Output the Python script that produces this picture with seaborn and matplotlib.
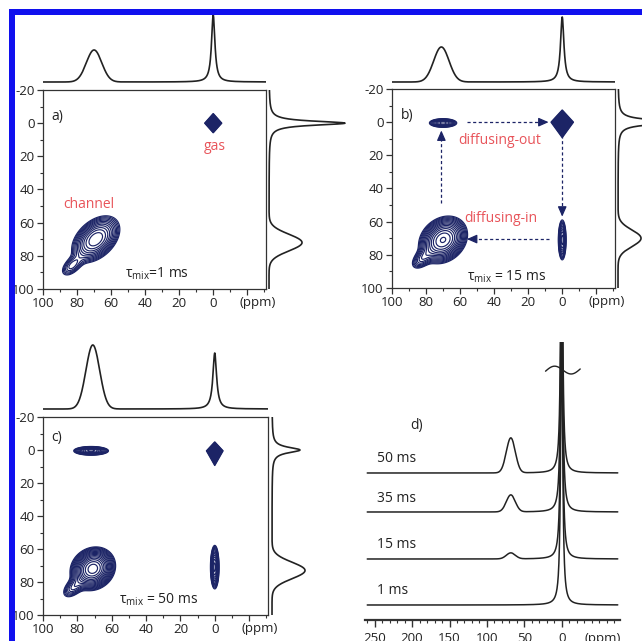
import numpy as np
import matplotlib
matplotlib.use("Agg")
import matplotlib.pyplot as plt
from matplotlib.patches import Rectangle
from matplotlib.ticker import MultipleLocator
import seaborn as sns

# ----------------------------------------------------------
# data
# ----------------------------------------------------------
panel_tags = ["a)", "b)", "c)"]
mix_labels = ["τ$_{\\mathrm{mix}}$=1 ms", "τ$_{\\mathrm{mix}}$ = 15 ms", "τ$_{\\mathrm{mix}}$ = 50 ms"]

# gas diagonal peak (ppm), diamond shaped
gas_x = [0.0, 0.0, 0.0]
gas_y = [0.0, 0.0, 0.5]
gas_wx = [1.3, 1.7, 1.25]
gas_wy_up = [1.5, 1.9, 1.4]
gas_wy_dn = [1.5, 2.4, 2.3]
gas_amp = [4.0, 4.0, 4.0]

# channel diagonal peak (main part + low field tail)
chan_x = [69.0, 70.0, 71.0]
chan_y = [70.0, 71.0, 72.0]
chan_su = [7.5, 6.5, 5.5]
chan_sv = [4.8, 5.2, 4.8]
chan_amp = [1.0, 1.6, 2.2]
tail_x = [83.0, 82.0, 82.0]
tail_y = [86.0, 82.0, 83.0]
tail_amp = [0.25, 0.3, 0.3]

# exchange cross peaks: channel -> gas (x=70, y=0) and gas -> channel (x=0, y=70)
out_x = [70.0, 70.0, 72.0]
out_y = [0.0, 0.5, 0.5]
out_sx = [4.3, 4.0, 4.6]
out_sy = [1.45, 1.3, 1.2]
out_amp = [0.0, 0.6, 0.9]
in_x = [0.0, 0.0, 0.0]
in_y = [71.0, 71.0, 71.0]
in_sx = [1.25, 1.15, 1.15]
in_sy = [6.5, 6.0, 6.0]
in_amp = [0.0, 0.6, 0.9]

# projections (arbitrary intensity)
top_chan_pos = [70.0, 71.0, 71.0]
top_chan_sig = [4.5, 4.5, 4.0]
top_chan_amp = [32, 35, 64]
top_gas_hw = [1.2, 1.2, 1.3]
top_gas_amp = [67, 65, 56]
right_chan_pos = [72.0, 70.0, 73.0]
right_chan_sig = [5.0, 5.0, 5.0]
right_chan_amp = [33, 23, 33]
right_gas_hw = [1.5, 1.5, 2.0]
right_gas_amp = [76, 70, 28]

# panel d: 1D spectra at increasing mixing time
d_labels = ["1 ms", "15 ms", "35 ms", "50 ms"]
d_offset = [15, 61, 108, 147]
d_chan_amp = [0, 6, 17, 35]
d_gas_amp = [300, 300, 300, 300]
d_chan_pos = 68.0
d_chan_sig = 6.0
d_gas_hw = 1.5

ticks_2d = [100, 80, 60, 40, 20, 0]
yticks_2d = [-20, 0, 20, 40, 60, 80, 100]
ticks_d = [250, 200, 150, 100, 50, 0]

# ----------------------------------------------------------
# style
# ----------------------------------------------------------
sns.set_theme(style="ticks")
plt.rcParams['font.family'] = ['Open Sans', 'DejaVu Sans']
plt.rcParams['mathtext.fontset'] = 'custom'
plt.rcParams['mathtext.rm'] = 'Open Sans'
plt.rcParams['axes.edgecolor'] = '#333333'
plt.rcParams['axes.linewidth'] = 0.9
plt.rcParams['xtick.color'] = '#333333'
plt.rcParams['ytick.color'] = '#333333'
plt.rcParams['xtick.labelcolor'] = '#222222'
plt.rcParams['ytick.labelcolor'] = '#222222'

NAVY = '#1c2466'
RED = '#e8545a'
INK = '#222222'
TICK_FS = 9.5
TEXT_FS = 10

W, H = 642, 641
fig = plt.figure(figsize=(W / 100, H / 100), dpi=100)
fig.patch.set_facecolor('white')


def px_axes(l, t, r, b):
    return fig.add_axes([l / W, 1 - b / H, (r - l) / W, (b - t) / H])


def lorentz(x, x0, hw):
    return 1.0 / (1.0 + ((x - x0) / hw) ** 2)


def gauss(x, x0, s):
    return np.exp(-0.5 * ((x - x0) / s) ** 2)


def tilted(X, Y, cx, cy, su, sv):
    u = ((X - cx) + (Y - cy)) / np.sqrt(2)
    v = ((X - cx) - (Y - cy)) / np.sqrt(2)
    return np.exp(-0.5 * (u / su) ** 2 - 0.5 * (v / sv) ** 2)


main_box = [(43, 90, 266, 289), (392, 89, 615, 288), (43, 417, 268, 615)]
top_base = [82, 82, 409]
top_span = [74, 74, 76]
right_base = [269, 618, 272]
right_span = [80, 80, 60]

gx = np.linspace(-31, 100, 1000)
gy = np.linspace(-20, 100, 920)
X, Y = np.meshgrid(gx, gy)
levels = np.geomspace(0.08, 3.6, 19)

p1 = np.linspace(-31, 100, 1500)
p2 = np.linspace(-20, 100, 1500)

# ----------------------------------------------------------
# panels a-c: 2D exchange spectra
# ----------------------------------------------------------
for i in range(3):
    l, t, r, b = main_box[i]
    ax = px_axes(l, t, r, b)

    wy = np.where(Y > gas_y[i], gas_wy_dn[i], gas_wy_up[i])
    Z = gas_amp[i] * np.exp(-np.abs(X - gas_x[i]) / gas_wx[i] - np.abs(Y - gas_y[i]) / wy)
    Z += chan_amp[i] * tilted(X, Y, chan_x[i], chan_y[i], chan_su[i], chan_sv[i])
    Z += tail_amp[i] * tilted(X, Y, tail_x[i], tail_y[i], 4.5, 2.5)
    Z += out_amp[i] * gauss(X, out_x[i], out_sx[i]) * gauss(Y, out_y[i], out_sy[i])
    Z += in_amp[i] * gauss(X, in_x[i], in_sx[i]) * gauss(Y, in_y[i], in_sy[i])

    ax.contour(X, Y, Z, levels=levels, colors=NAVY, linewidths=0.85)

    ax.set_xlim(100, -31)
    ax.set_ylim(100, -20)
    ax.set_xticks(ticks_2d + [-20])
    ax.set_xticklabels([str(v) for v in ticks_2d] + [''])
    ax.set_yticks(yticks_2d)
    ax.set_yticklabels([str(v) for v in yticks_2d])
    ax.xaxis.set_minor_locator(MultipleLocator(10))
    ax.yaxis.set_minor_locator(MultipleLocator(10))
    ax.tick_params(which='major', direction='out', length=4, width=0.9, labelsize=TICK_FS, pad=2)
    ax.tick_params(which='minor', direction='out', length=2, width=0.8)
    ax.annotate('(ppm)', xy=(-26, 0), xycoords=('data', 'axes fraction'),
                xytext=(0, -5), textcoords='offset points', ha='center', va='top',
                fontsize=TICK_FS, color=INK, annotation_clip=False)

    ax.text(95, [-4, -4, -7.5][i], panel_tags[i], ha='left', va='center',
            fontsize=TEXT_FS, color=INK)
    ax.text(33, [91, 93, 90.5][i], mix_labels[i], ha='center', va='center', fontsize=TEXT_FS, color=INK)

    # top projection
    tb = top_base[i]
    ts = top_span[i]
    axt = px_axes(l, tb - ts, r, tb + 4)
    top = top_chan_amp[i] * gauss(p1, top_chan_pos[i], top_chan_sig[i]) \
        + top_gas_amp[i] * lorentz(p1, 0, top_gas_hw[i])
    sns.lineplot(x=p1, y=top, ax=axt, color=INK, lw=1.2, estimator=None, sort=False)
    axt.set_xlim(100, -31)
    axt.set_ylim(-4, ts)
    axt.axis('off')

    # right projection
    rb = right_base[i]
    rs = right_span[i]
    axr = px_axes(rb - 4, t, rb + rs, b)
    right = right_chan_amp[i] * gauss(p2, right_chan_pos[i], right_chan_sig[i]) \
        + right_gas_amp[i] * lorentz(p2, 0, right_gas_hw[i])
    sns.lineplot(x=right, y=p2, ax=axr, color=INK, lw=1.2, estimator=None, sort=False, orient='y')
    axr.set_ylim(100, -20)
    axr.set_xlim(-4, rs)
    axr.axis('off')

    if i == 0:
        ax.text(73, 49, 'channel', ha='center', va='center', fontsize=TEXT_FS, color=RED)
        ax.text(-1, 14, 'gas', ha='center', va='center', fontsize=TEXT_FS, color=RED)
    if i == 1:
        ax.text(37, 11, 'diffusing-out', ha='center', va='center', fontsize=TEXT_FS, color=RED)
        ax.text(36, 58, 'diffusing-in', ha='center', va='center', fontsize=TEXT_FS, color=RED)
        arrows = [((71, 49), (71, 5)), ((56, 0), (8, 0)), ((0, 8), (0, 57)), ((8, 70.5), (56, 70.5))]
        for (x0, y0), (x1, y1) in arrows:
            # dashed shaft, then a solid head on the last bit
            hx = x1 + 0.1 * (x0 - x1)
            hy = y1 + 0.1 * (y0 - y1)
            ax.plot([x0, hx], [y0, hy], color=NAVY, lw=0.9, ls=(0, (2.5, 2)))
            ax.annotate('', xy=(x1, y1), xytext=(hx, hy),
                        arrowprops=dict(arrowstyle='-|>,head_length=0.5,head_width=0.22',
                                        color=NAVY, lw=0.9, shrinkA=0, shrinkB=0))

# ----------------------------------------------------------
# panel d: stacked 1D spectra
# ----------------------------------------------------------
axd = px_axes(365, 342, 620, 620)
pd_ = np.linspace(-75, 260, 3000)
for k in range(len(d_labels)):
    trace = d_offset[k] + d_chan_amp[k] * gauss(pd_, d_chan_pos, d_chan_sig) \
        + d_gas_amp[k] * lorentz(pd_, 0, d_gas_hw)
    sns.lineplot(x=pd_, y=trace, ax=axd, color=INK, lw=1.1, estimator=None, sort=False)
    axd.text(247, d_offset[k] + 14, d_labels[k], ha='left', va='center', fontsize=TEXT_FS, color=INK)

axd.set_xlim(263, -78)
axd.set_ylim(0, 278)
axd.set_xticks(ticks_d)
axd.set_xticklabels([str(v) for v in ticks_d])
axd.xaxis.set_minor_locator(MultipleLocator(10))
axd.tick_params(axis='x', which='major', direction='out', length=5, width=1.0, labelsize=TICK_FS, pad=4)
axd.tick_params(axis='x', which='minor', direction='out', length=2.5, width=0.8)
axd.set_yticks([])
for s in ['left', 'top', 'right']:
    axd.spines[s].set_visible(False)
axd.spines['bottom'].set_linewidth(1.6)
axd.annotate('(ppm)', xy=(-55, 0), xycoords=('data', 'axes fraction'),
             xytext=(0, -8.5), textcoords='offset points', ha='center', va='top',
             fontsize=TICK_FS, color=INK, annotation_clip=False)
axd.text(203, 195, 'd)', ha='left', va='center', fontsize=TEXT_FS, color=INK)

# break mark on the truncated gas peak
bt = np.linspace(0, 2 * np.pi, 60)
axd.plot(0.776 + 0.068 * (bt / np.pi - 1), 0.899 + 0.016 * np.sin(bt) - 0.004 * (1 - bt / np.pi),
         transform=axd.transAxes, color=INK, lw=1.0, clip_on=False)

# ----------------------------------------------------------
# blue frame of the original figure (top and left edges)
# ----------------------------------------------------------
def frame_rect(x0, y0, x1, y1, col):
    fig.patches.append(Rectangle((x0 / W, 1 - y1 / H), (x1 - x0) / W, (y1 - y0) / H,
                                 transform=fig.transFigure, color=col, zorder=20, lw=0))

frame_rect(0, 0, 9, H, 'white')
frame_rect(0, 0, W, 9, 'white')
frame_rect(9, 9, W, 15, '#1010ee')
frame_rect(9, 9, 15, H, '#1010ee')

fig.savefig("out.png", dpi=100)
